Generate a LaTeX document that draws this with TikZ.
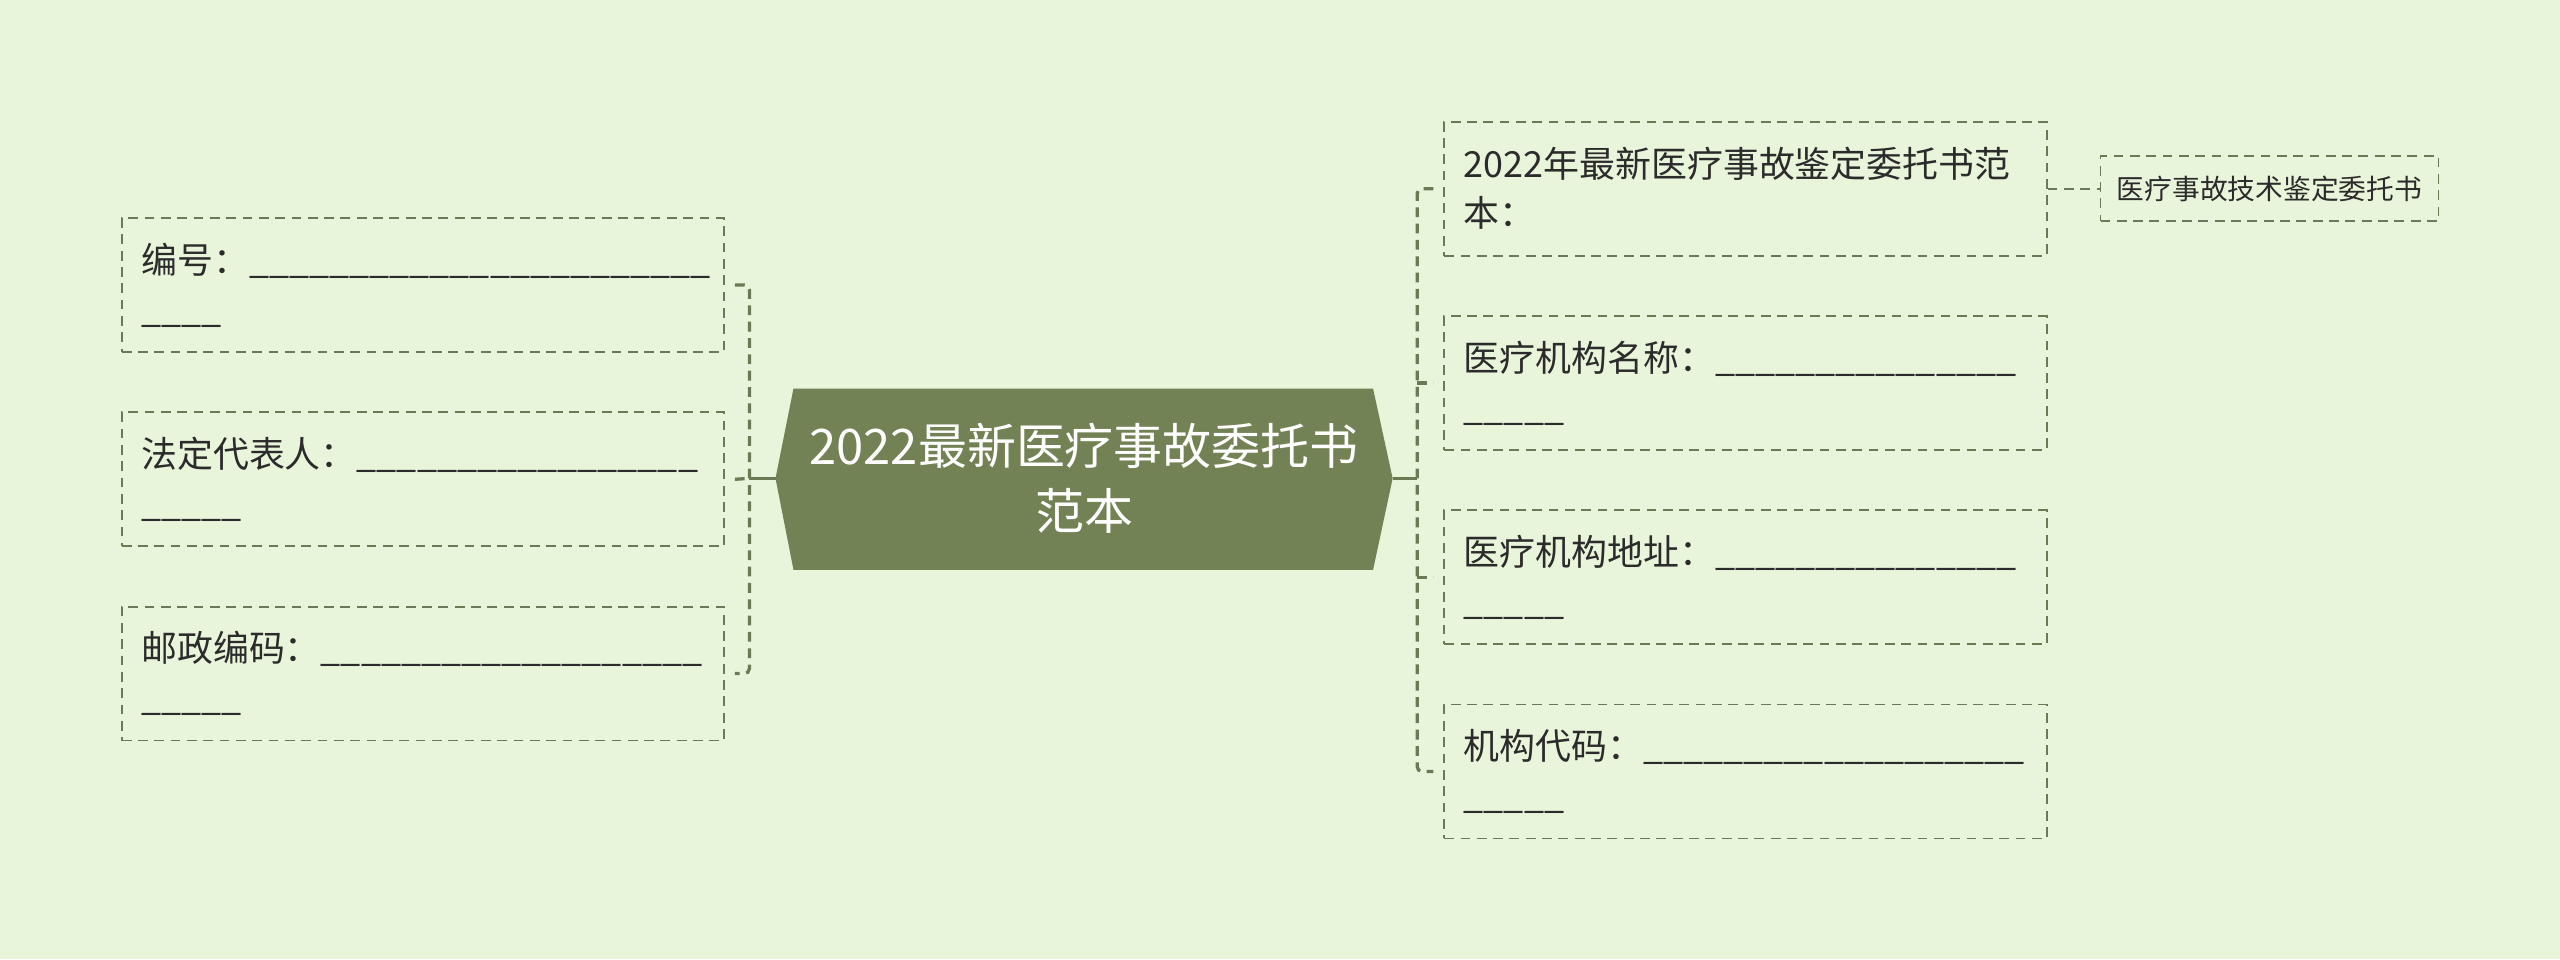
\documentclass[tikz,border=0pt]{standalone}
\usepackage{fontspec}
\setmainfont{Noto Sans CJK SC}
\usetikzlibrary{calc}
\definecolor{bg}{HTML}{E9F5DB}
\definecolor{rootfill}{HTML}{738254}
\definecolor{lineclr}{HTML}{6B7A54}
\definecolor{txt}{HTML}{2B2B2B}
\ExplSyntaxOn
\NewDocumentCommand\usc{m}{\prg_replicate:nn{#1}{\textunderscore}}
\ExplSyntaxOff
\begin{document}
\begin{tikzpicture}[x=1pt,y=-1pt,
  leaf/.style={draw=lineclr, dash pattern=on 6pt off 4pt, line width=1.1pt,
    text=txt, font=\fontsize{22}{30}\selectfont, text width=345pt, align=left,
    inner xsep=12pt, inner ysep=0pt, minimum height=82pt, anchor=north west},
  smallleaf/.style={draw=lineclr, dash pattern=on 6pt off 4pt, line width=1.1pt,
    text=txt, font=\fontsize{17}{22}\selectfont, align=center,
    inner xsep=6pt, inner ysep=0pt, minimum width=207pt, minimum height=40pt, anchor=north west},
  trunk/.style={draw=lineclr, line width=2.2pt},
  branch/.style={draw=lineclr, line width=2pt, dash pattern=on 6pt off 4pt},
  twig/.style={draw=lineclr, line width=1.1pt, dash pattern=on 6pt off 4pt},
  rootlabel/.style={text=white, font=\fontsize{30}{40}\selectfont, align=center, inner sep=0pt}
]
\fill[bg] (0,0) rectangle (1568,587.4);
\useasboundingbox (0,0) rectangle (1568,587.4);

% root
\fill[rootfill] (486,238) -- (841,238) -- (853,293) -- (841,349) -- (486,349) -- (475,293) -- cycle;
\node[rootlabel] (root) at (664,293) {2022最新医疗事故委托书\\范本};
\coordinate (rL) at (475,293);
\coordinate (rR) at (853,293);
\coordinate (lbx) at (459,293);
\coordinate (rbx) at (868,293);

% left leaves
\node[leaf] (l1) at (74,133) {编号：\usc{23}\\\usc{4}};
\node[leaf] (l2) at (74,252) {法定代表人：\usc{17}\\\usc{5}};
\node[leaf] (l3) at (74,371) {邮政编码：\usc{19}\\\usc{5}};

% right leaves
\node[leaf] (r1) at (884,74) {2022年最新医疗事故鉴定委托书范\\本：};
\node[leaf] (r2) at (884,193) {医疗机构名称：\usc{15}\\\usc{5}};
\node[leaf] (r3) at (884,312) {医疗机构地址：\usc{15}\\\usc{5}};
\node[leaf] (r4) at (884,431) {机构代码：\usc{19}\\\usc{5}};

\node[smallleaf] (s1) at (1286,95) {医疗事故技术鉴定委托书};

% connectors left
\draw[trunk] (rL) -- (lbx);
\draw[branch, rounded corners=3pt] ($(l1.east)+(6,0)$) -- (l1.east -| lbx) -- (l3.east -| lbx) -- ($(l3.east)+(6,0)$);
\draw[branch] ($(l2.east)+(6,0)$) -- (lbx);

% connectors right
\draw[trunk] (rR) -- (rbx);
\draw[branch, rounded corners=3pt] ($(r1.west)+(-6,0)$) -- (r1.west -| rbx) -- (r4.west -| rbx) -- ($(r4.west)+(-6,0)$);
\draw[branch] (r2.west -| rbx) -- ($(r2.west)+(-6,0)$);
\draw[branch] (r3.west -| rbx) -- ($(r3.west)+(-6,0)$);

\draw[twig] (r1.east) -- (s1.west);
\end{tikzpicture}
\end{document}
